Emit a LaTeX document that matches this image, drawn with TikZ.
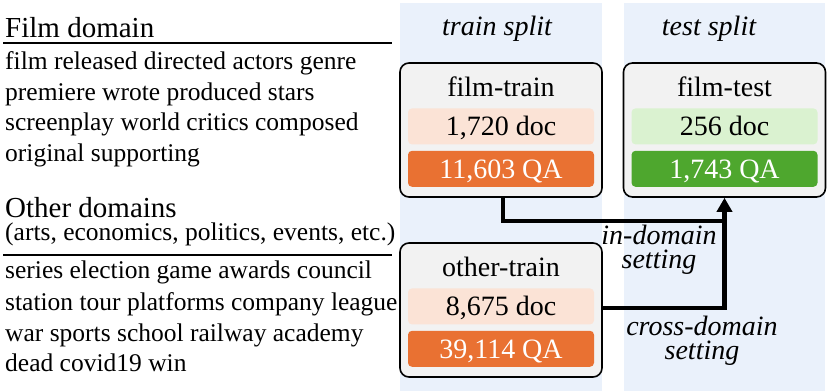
\documentclass[tikz,border=0pt]{standalone}
\usepackage{fontspec}
\setmainfont{Liberation Serif}
\usepackage{tikz}
\usetikzlibrary{positioning,arrows.meta,calc}
\usepackage{xcolor}
\definecolor{splitblue}{RGB}{234,241,251}
\definecolor{boxgray}{RGB}{242,242,242}
\definecolor{docpeach}{RGB}{251,227,214}
\definecolor{qaorange}{RGB}{233,113,50}
\definecolor{docgreen}{RGB}{218,242,208}
\definecolor{qagreen}{RGB}{78,167,46}

\tikzset{
    wordline/.style={anchor=base west, inner sep=0pt, font=\fontsize{25.5}{30}\selectfont},
    domainhead/.style={anchor=base west, inner sep=0pt, font=\fontsize{29}{34}\selectfont},
    splithead/.style={anchor=base, inner sep=0pt, font=\itshape\fontsize{28}{32}\selectfont},
    splitbox/.style={draw, line width=1.6pt, rounded corners=9pt, fill=boxgray, minimum width=202pt, minimum height=134pt},
    boxtitle/.style={inner sep=0pt, font=\fontsize{28}{32}\selectfont},
    countbar/.style={rounded corners=4pt, minimum width=186pt, minimum height=36pt, inner sep=0pt, text height=19pt, text depth=0pt, font=\fontsize{28}{32}\selectfont},
    setting/.style={align=center, inner sep=0pt, font=\itshape\fontsize{28}{24}\selectfont},
    flow/.style={line width=4.5pt},
}

\begin{document}
\begin{tikzpicture}[x=1pt,y=-1pt]
    \useasboundingbox (0,0) rectangle (831,391);

    % split panels
    \fill[splitblue] (400,3) rectangle (602,391);
    \fill[splitblue] (624,3) rectangle (825,391);
    \node[splithead] (trainhead) at (497,35) {train split};
    \node[splithead] (testhead) at (709,35) {test split};

    % film domain words
    \node[domainhead] (filmhead) at (5,37) {Film domain};
    \draw[line width=1.5pt] (3,43) -- (392,43);
    \node[wordline] (film1) at (5,69) {film released directed actors genre};
    \node[wordline] (film2) at (5,100) {premiere wrote produced stars};
    \node[wordline] (film3) at (5,130) {screenplay world critics composed};
    \node[wordline] (film4) at (5,161) {original supporting};

    % other domain words
    \node[domainhead] (otherhead) at (5,217) {Other domains};
    \node[wordline] (othersub) at (5,240) {(arts, economics, politics, events, etc.)};
    \draw[line width=1.5pt] (3,255) -- (392,255);
    \node[wordline] (other1) at (5,278) {series election game awards council};
    \node[wordline] (other2) at (5,310) {station tour platforms company league};
    \node[wordline] (other3) at (5,341) {war sports school railway academy};
    \node[wordline] (other4) at (5,371) {dead covid19 win};

    % splits
    \node[splitbox] (filmtrain) at (501,130) {};
    \node[boxtitle, below=34pt of filmtrain.north, anchor=base] (filmtraintitle) {film-train};
    \node[countbar, fill=docpeach, below=46pt of filmtrain.north] (filmtraindoc) {1,720 doc};
    \node[countbar, fill=qaorange, text=white, below=6pt of filmtraindoc] (filmtrainqa) {11,603 QA};

    \node[splitbox] (filmtest) at (724.5,130) {};
    \node[boxtitle, below=34pt of filmtest.north, anchor=base] (filmtesttitle) {film-test};
    \node[countbar, fill=docgreen, below=46pt of filmtest.north] (filmtestdoc) {256 doc};
    \node[countbar, fill=qagreen, text=white, below=6pt of filmtestdoc] (filmtestqa) {1,743 QA};

    \node[splitbox] (othertrain) at (501,310) {};
    \node[boxtitle, below=34pt of othertrain.north, anchor=base] (othertraintitle) {other-train};
    \node[countbar, fill=docpeach, below=46pt of othertrain.north] (othertraindoc) {8,675 doc};
    \node[countbar, fill=qaorange, text=white, below=6pt of othertraindoc] (othertrainqa) {39,114 QA};

    % settings
    \coordinate (merge) at (filmtest.south |- 0,221);
    \draw[flow] ($(filmtrain.south)+(2,0)$) |- (merge);
    \draw[flow, -{Triangle[length=14pt,width=15pt]}] ($(othertrain.east)+(0,-2)$) -| (filmtest.south);
    \node[setting] (indomain) at (659,250) {in-domain\\setting};
    \node[setting] (crossdomain) at (702,341) {cross-domain\\setting};
\end{tikzpicture}
\end{document}
